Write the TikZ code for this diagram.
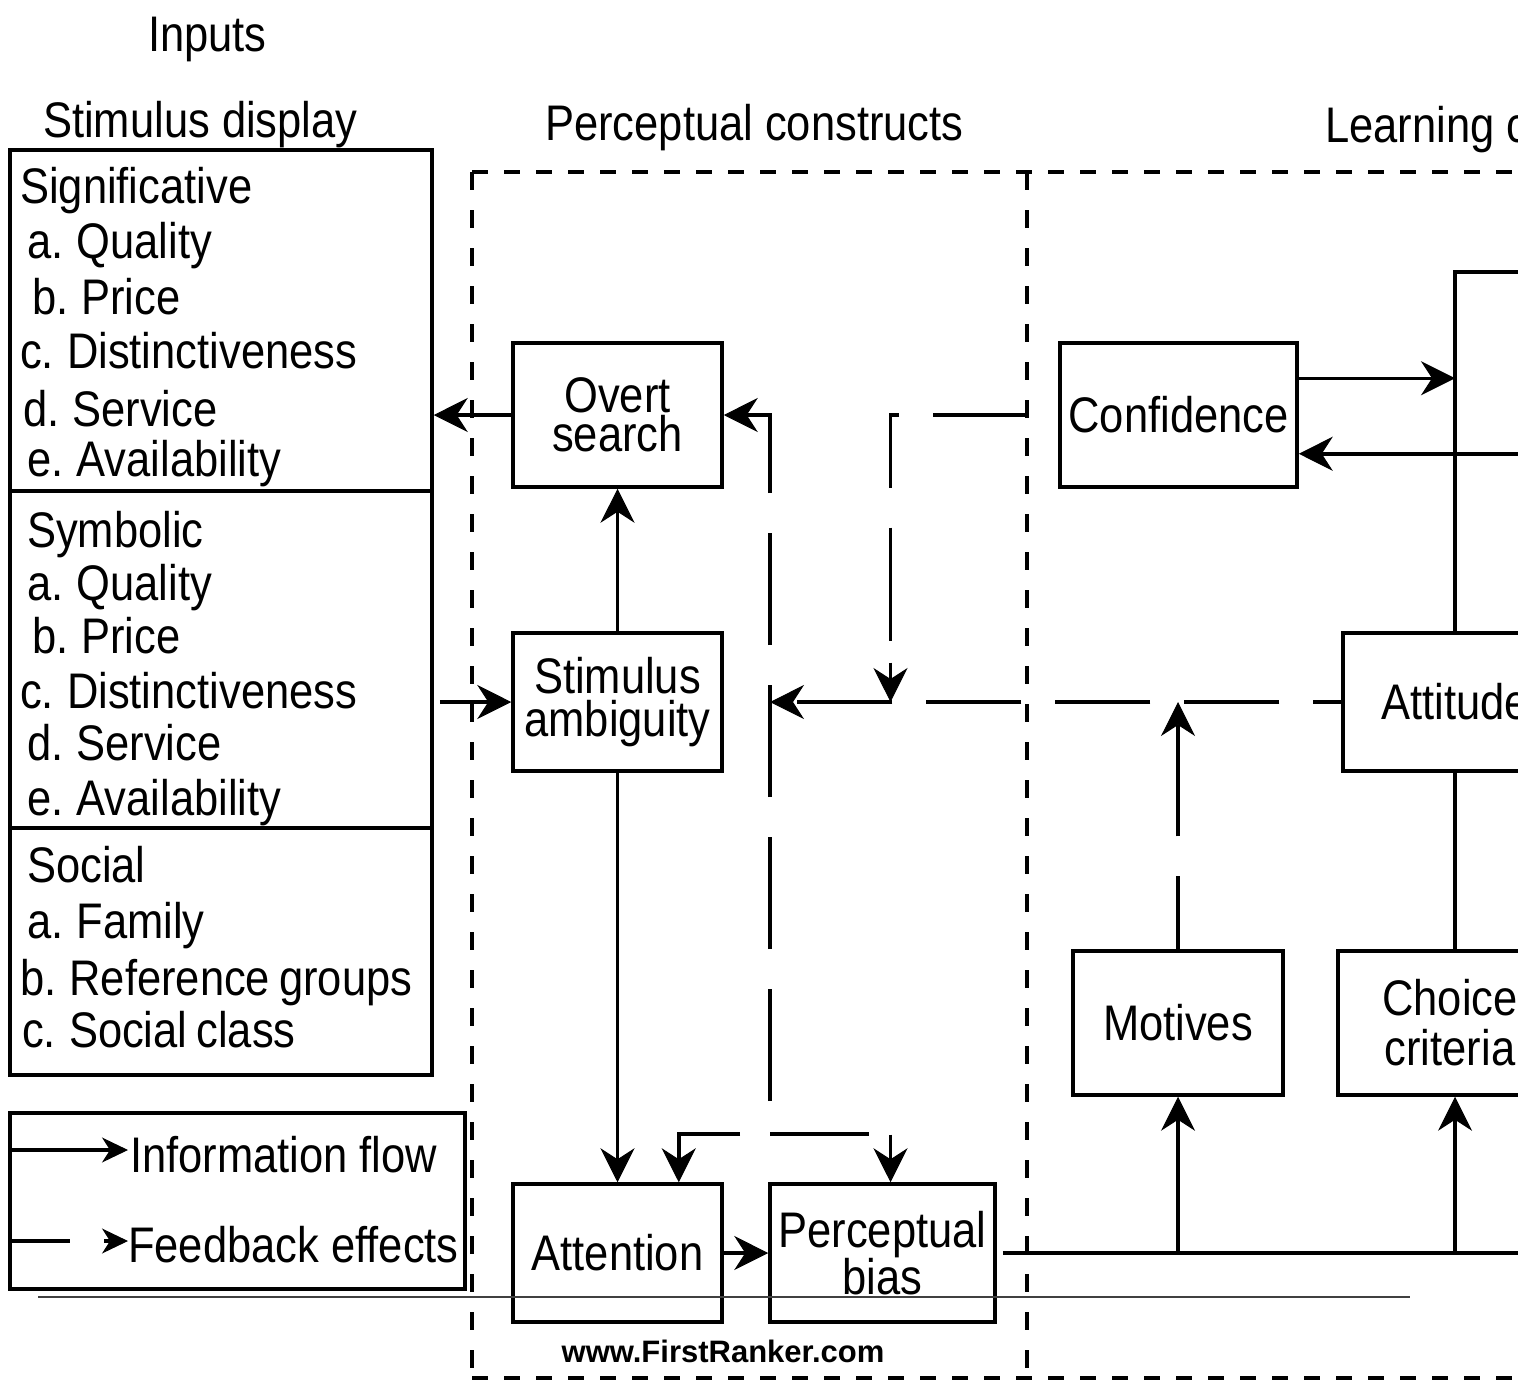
\documentclass[tikz,border=0pt]{standalone}
\usepackage{fontspec}
\setmainfont{Liberation Sans}[FakeStretch=0.87]
\newfontfamily\wmfont{Liberation Sans}
\usetikzlibrary{arrows.meta,calc}

\begin{document}
\begin{tikzpicture}[x=1pt,y=-1pt,
  >={Stealth[length=34pt,width=34pt,inset=11pt,line width=1pt]},
  txt/.style={font=\fontsize{50}{55}\selectfont, inner sep=0pt, anchor=base west},
  listline/.style={txt, execute at begin node={\spaceskip=9pt\relax}},
  box/.style={draw, line width=3.5pt, inner sep=0pt, align=center,
              font=\fontsize{50}{55}\selectfont},
  conn/.style={line width=3.5pt},
  flow/.style={conn, ->},
  fb/.style={conn, ->, dash pattern=on 112pt off 40pt},
  frameh/.style={line width=4pt, dash pattern=on 16pt off 16pt},
  framev/.style={line width=4pt, dash pattern=on 18pt off 20pt},
  smalltip/.style={-{Stealth[length=26pt,width=25pt,inset=8pt,line width=1pt]}}
]
\useasboundingbox (0,0) rectangle (1518,1381);
\fill[white] (0,0) rectangle (1518,1381);
\clip (0,0) rectangle (1518,1381);

% ---------- column headings ----------
\node[txt] (hInputs) at (148,52) {Inputs};
\node[txt] (hStim)   at (43,137) {Stimulus display};
\node[txt] (hPerc)   at (545,140) {Perceptual constructs};
\node[txt] (hLearn)  at (1325,142) {Learning constructs};

% ---------- dashed frame of the perceptual constructs ----------
\coordinate (frTL) at (472,172);
\coordinate (frTR) at (1530,172);
\coordinate (frBL) at (472,1378);
\coordinate (frBR) at (1530,1378);
\coordinate (frMT) at (1027,172);
\coordinate (frMB) at (1027,1378);
\draw[frameh] (frTL) -- (frTR);
\draw[frameh] (frBL) -- (frBR);
\draw[framev] (frTL) -- (frBL);
\draw[framev] (frMT) -- (frMB);

% ---------- stimulus display ----------
\node[box, minimum width=422pt, minimum height=341pt] (sig) at (221,320.5) {};
\node[box, minimum width=422pt, minimum height=337pt] (sym) at (221,659.5) {};
\node[box, minimum width=422pt, minimum height=247pt] (soc) at (221,951.5) {};

\foreach \n/\x/\y/\t in {
  sig0/20/203/Significative, sig1/27/258/a. Quality, sig2/32/314/b. Price,
  sig3/20/368/c. Distinctiveness, sig4/23/426/d. Service, sig5/27/476/e. Availability,
  sym0/27/547/Symbolic, sym1/27/600/a. Quality, sym2/32/653/b. Price,
  sym3/20/708/c. Distinctiveness, sym4/27/760/d. Service, sym5/27/815/e. Availability,
  soc0/27/882/Social, soc1/27/938/a. Family, soc2/20/995/b. Reference groups,
  soc3/22/1047/c. Social class}
  \node[listline] (\n) at (\x,\y) {\t};

% ---------- legend ----------
\node[box, minimum width=455pt, minimum height=176pt] (legend) at (237.5,1201) {};
\coordinate (lgA) at (128,1150);
\coordinate (lgB) at (128,1241);
\draw[conn, smalltip] (lgA -| legend.west) -- (lgA);
\draw[conn, smalltip, dash pattern=on 62pt off 34pt on 100pt] (lgB -| legend.west) -- (lgB);
\node[txt] (legInfo) at (130,1172) {Information flow};
\node[txt] (legFb)   at (128,1262) {Feedback effects};

% ---------- perceptual constructs ----------
\node[box, minimum width=209pt, minimum height=144pt, font=\fontsize{50}{39}\selectfont]
  (overt) at (617.5,415) {Overt\\search};
\node[box, minimum width=209pt, minimum height=138pt, font=\fontsize{50}{43}\selectfont]
  (stimamb) at (617.5,702) {Stimulus\\ambiguity};
\node[box, minimum width=209pt, minimum height=138pt] (attention) at (617.5,1253) {Attention};
\node[box, minimum width=225pt, minimum height=138pt, font=\fontsize{50}{40}\selectfont]
  (percbias) at (882.5,1253) {Perceptual\\bias};

% ---------- learning constructs ----------
\node[box, minimum width=237pt, minimum height=144pt] (confidence) at (1178.5,415) {Confidence};
\node[box, minimum width=224pt, minimum height=138pt] (attitude) at (1455,702) {Attitude};
\node[box, minimum width=210pt, minimum height=144pt] (motives) at (1178,1023) {Motives};
\node[box, minimum width=224pt, minimum height=144pt, font=\fontsize{50}{50}\selectfont]
  (choice) at (1450,1023) {Choice\\criteria};

% ---------- information flow ----------
\draw[flow] (overt.west) -- (overt.west -| sig.east);
\draw[flow, shorten <=6pt] (sym.east |- stimamb.west) -- (stimamb.west);
\draw[flow] (stimamb.north) -- (overt.south);
\draw[flow] (stimamb.south) -- (attention.north);
\draw[flow] (attention.east) -- (percbias.west);

\path ($(confidence.north east)+(0,37)$) coordinate (cout);
\path ($(confidence.south east)+(0,-35)$) coordinate (cback);
\coordinate (ne) at (1530,272);
\coordinate (bus) at (1530,1255);
\draw[flow] (cout) -- (cout -| attitude.north);
\draw[flow] (cback -| ne) -- (cback);
\draw[conn] (attitude.north) |- (ne);
\draw[conn] (attitude.south) -- (attitude.south |- choice.north);

\draw[conn, shorten <=6pt] (percbias.east) -- (percbias.east -| bus);
\draw[flow] (percbias.east -| motives.south) -- (motives.south);
\draw[flow] (percbias.east -| attitude.south) -- (attitude.south |- choice.south);

% ---------- feedback effects ----------
\coordinate (fbbot) at (770,1134);
\coordinate (cf) at (1027,415);
\path ($(attention.north east)+(-45,0)$) coordinate (attin);
\path ($(percbias.north)+(8,0)$) coordinate (pbin);

\draw[fb, dash pattern=on 95pt off 34pt, dash phase=67pt]
  (attitude.west) -- (fbbot |- attitude.west);
\draw[fb, dash phase=119pt] (fbbot) -- (fbbot |- overt.east) -- (overt.east);
\draw[fb, dash phase=122pt] (fbbot) -| (attin);
\draw[fb, dash pattern=on 99pt off 22pt on 100pt] (fbbot) -| (pbin);
\draw[fb, dash pattern=on 94pt off 34pt on 81pt off 40pt on 113pt off 22pt on 60pt]
  (cf) -| (pbin |- attitude.west);
\draw[fb, dash pattern=on 73pt off 40pt on 200pt]
  (motives.north) -- (motives.north |- attitude.west);

% ---------- rule and footer ----------
\coordinate (ruleL) at (38,1297);
\coordinate (ruleR) at (1410,1297);
\draw[line width=2pt, black!75] (ruleL) -- (ruleR);
\node[font=\wmfont\bfseries\fontsize{31}{36}\selectfont, inner sep=0pt, anchor=base]
  (wm) at (723,1362) {www.FirstRanker.com};
\end{tikzpicture}
\end{document}
